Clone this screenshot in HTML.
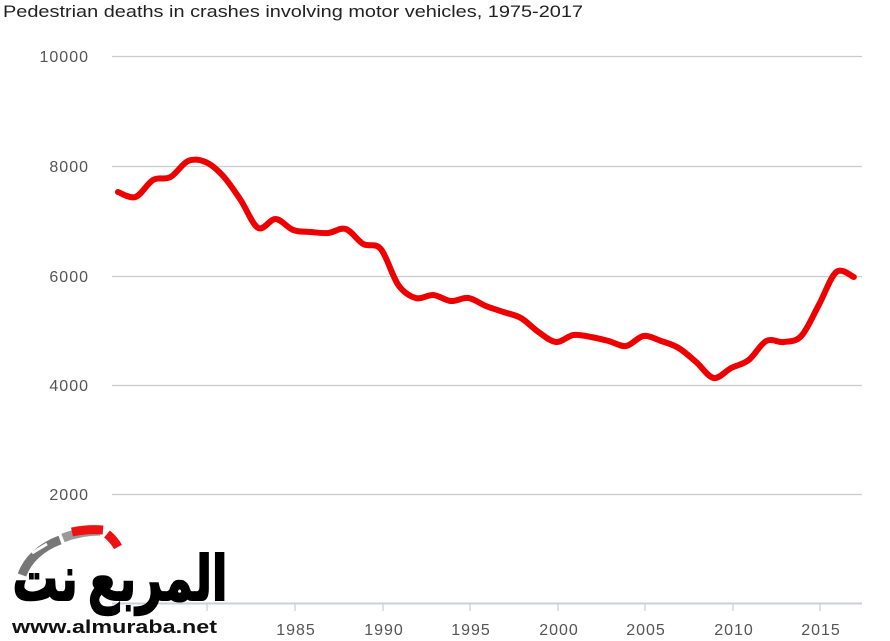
<!DOCTYPE html>
<html><head><meta charset="utf-8"><style>
body{margin:0;background:#fff;width:890px;height:641px;overflow:hidden}
svg{display:block}
</style></head><body>
<svg id="s" width="890" height="641" xmlns="http://www.w3.org/2000/svg" font-family="Liberation Sans, sans-serif">
<text x="3" y="17" font-size="17" fill="#222" textLength="580" lengthAdjust="spacingAndGlyphs">Pedestrian deaths in crashes involving motor vehicles, 1975-2017</text>
<g stroke="#cccccc" stroke-width="1.3">
<line x1="112" y1="56.5" x2="862" y2="56.5"/>
<line x1="112" y1="166.5" x2="862" y2="166.5"/>
<line x1="112" y1="276.5" x2="862" y2="276.5"/>
<line x1="112" y1="385.5" x2="862" y2="385.5"/>
<line x1="112" y1="494.5" x2="862" y2="494.5"/>
</g>
<line x1="112" y1="603.5" x2="862" y2="603.5" stroke="#c8d0da" stroke-width="2"/>
<g stroke="#c8d0da" stroke-width="1.3" id="ticks"></g>
<g font-size="16" fill="#555" text-anchor="end" letter-spacing="1">
<text x="89" y="62">10000</text>
<text x="89" y="172">8000</text>
<text x="89" y="282">6000</text>
<text x="89" y="391">4000</text>
<text x="89" y="500">2000</text>
</g>
<g font-size="16" fill="#555" text-anchor="middle" letter-spacing="1">
<text x="296" y="635">1985</text>
<text x="384" y="635">1990</text>
<text x="471" y="635">1995</text>
<text x="559" y="635">2000</text>
<text x="646" y="635">2005</text>
<text x="734" y="635">2010</text>
<text x="821" y="635">2015</text>
</g>
<path id="ln" fill="none" stroke="#ee0000" stroke-width="6" stroke-linejoin="round" stroke-linecap="round"/>
<!-- logo -->
<path d="M22 575 A70 55 0 0 1 60 540" stroke="#777" stroke-width="9" fill="none"/>
<path d="M32 553 L47 544" stroke="#fff" stroke-width="3"/>
<path d="M63 538 A80 60 0 0 1 100 531" stroke="#999" stroke-width="9" fill="none"/>
<path d="M72 532 A80 60 0 0 1 103 530" stroke="#ee1111" stroke-width="9" fill="none"/>
<path d="M107 534 A60 45 0 0 1 118 547" stroke="#ee1111" stroke-width="9" fill="none"/>
<text x="120" y="600" font-size="62" font-weight="bold" font-family="Noto Sans CJK SC, DejaVu Sans, sans-serif" fill="#000" stroke="#000" stroke-width="2" text-anchor="middle" textLength="215" lengthAdjust="spacingAndGlyphs">المربع نت</text>
<text x="12" y="633" font-size="18" font-weight="bold" fill="#111" textLength="205" lengthAdjust="spacingAndGlyphs">www.almuraba.net</text>
</svg>
<script>
var t=document.getElementById('ticks'),ns='http://www.w3.org/2000/svg';
[118,207,295,383,470,558,645,733,820].forEach(function(x){var l=document.createElementNS(ns,'line');l.setAttribute('x1',x);l.setAttribute('x2',x);l.setAttribute('y1',604);l.setAttribute('y2',611);t.appendChild(l);});
var y=[192,197,180,177,161,162,176,200,228,219,230,232,233,229,244,249,285,298,295,301,298,306,312,318,332,342,335,337,341,346,336,341,348,362,378,368,360,341,342,336,305,272,277];
var p=y.map(function(v,i){return [118+i*17.52,v];});
var d='M'+p[0][0]+' '+p[0][1];
for(var i=0;i<p.length-1;i++){var p0=p[i-1]||p[i],p1=p[i],p2=p[i+1],p3=p[i+2]||p2;
d+=' C'+(p1[0]+(p2[0]-p0[0])/6)+' '+(p1[1]+(p2[1]-p0[1])/6)+' '+(p2[0]-(p3[0]-p1[0])/6)+' '+(p2[1]-(p3[1]-p1[1])/6)+' '+p2[0]+' '+p2[1];}
document.getElementById('ln').setAttribute('d',d);
</script>
</body></html>
